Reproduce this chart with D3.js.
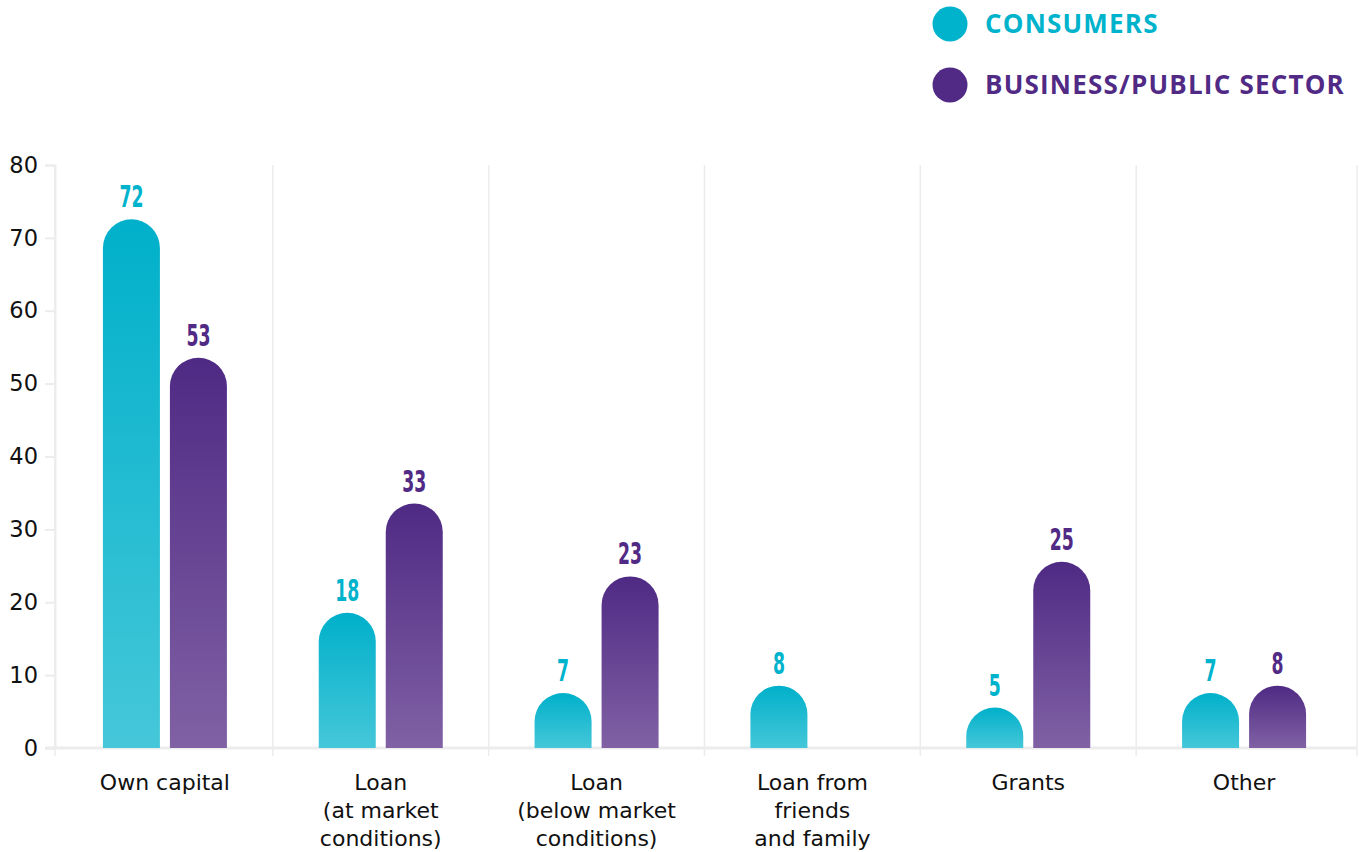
<!DOCTYPE html>
<html><head><meta charset="utf-8">
<script src="https://cdn.jsdelivr.net/npm/d3@7"></script>
<style>
body{margin:0;background:#fff;}
svg{display:block;}
</style></head>
<body>
<svg id="chart" width="1359" height="852"></svg>
<script>
const categories = [["Own capital"],["Loan","(at market","conditions)"],["Loan","(below market","conditions)"],["Loan from","friends","and family"],["Grants"],["Other"]];
const seriesNames = ["CONSUMERS","BUSINESS/PUBLIC SECTOR"];
const consumers = [72,18,7,8,5,7];
const business = [53,33,23,null,25,8];
const yTicks = [0,10,20,30,40,50,60,70,80];

const colors = {c:{top:"#00b0ca",bottom:"#45c7d9",text:"#00b3cc"}, b:{top:"#4f2a84",bottom:"#8061a4",text:"#512a85"}};

const svg = d3.select("#chart");
const defs = svg.append("defs");
[["gc",colors.c],["gb",colors.b]].forEach(([id,c])=>{
  const g = defs.append("linearGradient").attr("id",id).attr("x1",0).attr("y1",0).attr("x2",0).attr("y2",1);
  g.append("stop").attr("offset","0%").attr("stop-color",c.top);
  g.append("stop").attr("offset","100%").attr("stop-color",c.bottom);
});

const x0 = 55, xEnd = 1357, yTop = 165, yBot = 748;
const x = d3.scaleBand().domain(d3.range(categories.length)).range([57,1352]);
const y = d3.scaleLinear().domain([0,80]).range([yBot,yTop]);
const barW = 57, gap = 10, capOver = 4;

// vertical grid lines
const gridX = d3.range(categories.length+1).map(i=>i===0?x0:(i<categories.length?x(i):xEnd));
svg.append("g").selectAll("line").data(gridX).join("line")
  .attr("x1",d=>d).attr("x2",d=>d)
  .attr("y1",yTop).attr("y2",756)
  .attr("stroke","#ececec").attr("stroke-width",1.5);

// y axis
const yAxis = svg.append("g").attr("transform",`translate(${x0},0)`)
  .call(d3.axisLeft(y).tickValues(yTicks).tickSize(10).tickPadding(7));
yAxis.select(".domain").attr("stroke","#ececec").attr("stroke-width",2);
yAxis.selectAll(".tick line").attr("stroke","#ececec").attr("stroke-width",2);
yAxis.selectAll(".tick text").attr("font-family","DejaVu Sans").attr("font-size",22.5).attr("fill","#111");

// x axis baseline
svg.append("line").attr("x1",x0-10).attr("x2",xEnd).attr("y1",yBot).attr("y2",yBot).attr("stroke","#ececec").attr("stroke-width",3);

function barPath(cx,v){
  const r = barW/2, top = y(v)-capOver, bot = yBot;
  const left = cx - r, right = cx + r;
  return `M${left},${bot} L${left},${top+r} A${r},${r} 0 0 1 ${right},${top+r} L${right},${bot} Z`;
}

const series = [{vals:consumers,grad:"url(#gc)",col:colors.c.text,off:-(barW+gap)/2},
                {vals:business,grad:"url(#gb)",col:colors.b.text,off:(barW+gap)/2}];
series.forEach(s=>{
  const data = s.vals.map((v,i)=>({v,i})).filter(d=>d.v!=null);
  const g = svg.append("g");
  g.selectAll("path").data(data).join("path")
    .attr("d",d=>barPath(x(d.i)+x.bandwidth()/2+s.off,d.v))
    .attr("fill",s.grad);
  g.selectAll("text").data(data).join("text")
    .attr("transform",d=>`translate(${x(d.i)+x.bandwidth()/2+s.off},${y(d.v)-capOver-12}) scale(0.62,1)`)
    .attr("text-anchor","middle")
    .attr("font-family","'DejaVu Sans Condensed','DejaVu Sans',sans-serif")
    .attr("font-weight","bold").attr("font-size",31)
    .attr("fill",s.col)
    .text(d=>d.v);
});

// x labels
const xl = svg.append("g").selectAll("text").data(categories).join("text")
  .attr("x",(d,i)=>x(i)+x.bandwidth()/2)
  .attr("y",790)
  .attr("text-anchor","middle")
  .attr("font-family","DejaVu Sans").attr("font-size",22).attr("fill","#111");
xl.each(function(d){
  d3.select(this).selectAll("tspan").data(d).join("tspan")
    .attr("x",d3.select(this).attr("x")).attr("dy",(t,j)=>j===0?0:28).text(t=>t);
});

// legend
const legY = [24,85];
seriesNames.forEach((n,i)=>{
  const c = i===0?colors.c.text:colors.b.text;
  svg.append("circle").attr("cx",950).attr("cy",legY[i]).attr("r",17.5).attr("fill",c);
  svg.append("text").attr("x",985).attr("y",legY[i]+9).attr("font-family","'Open Sans',sans-serif")
    .attr("font-weight","bold").attr("font-size",26).attr("letter-spacing",1.2).attr("fill",c).text(n);
});
</script>
</body></html>
